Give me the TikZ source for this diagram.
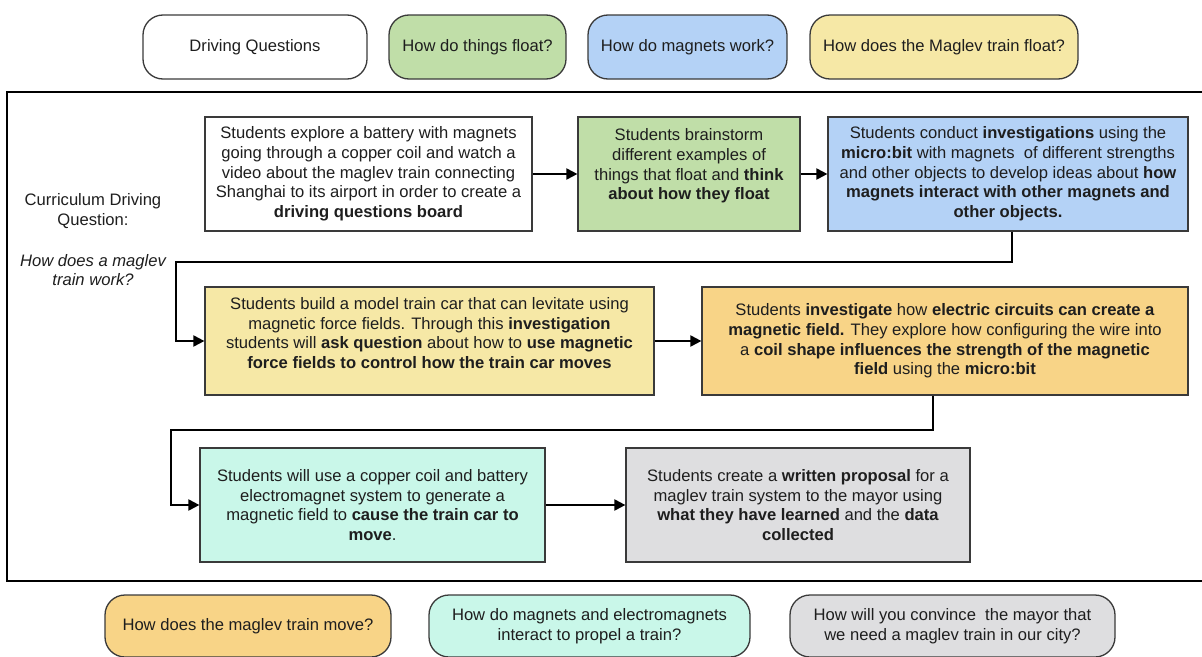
\documentclass[tikz,border=0pt]{standalone}
\usepackage{fontspec}
\setmainfont{Liberation Sans}
\usetikzlibrary{arrows.meta,calc}
\definecolor{cgreen}{HTML}{C0DEA8}
\definecolor{cblue}{HTML}{B4D2F6}
\definecolor{cyellow}{HTML}{F6E8A6}
\definecolor{corange}{HTML}{F8D487}
\definecolor{cteal}{HTML}{C9F7E9}
\definecolor{cgray}{HTML}{DEDEE0}
\definecolor{cborder}{HTML}{3A3A3A}
\definecolor{ctext}{HTML}{1E1E1E}
\newcommand{\myfont}{\fontsize{16.6}{19.7}\selectfont}
\tikzset{
  stepbox/.style={draw=cborder, line width=1.2pt, rectangle, align=center, inner sep=3pt,
    text=ctext, font=\myfont},
  qbox/.style={draw=cborder, line width=1.3pt, rectangle, rounded corners=20pt, align=center,
    inner sep=3pt, text=ctext, font=\myfont, minimum height=64pt},
  conn/.style={line width=2pt, -{Triangle[length=11pt,width=11pt]}},
  plain/.style={align=center, text=ctext, font=\myfont}
}
\begin{document}
\begin{tikzpicture}[x=1pt,y=-1pt]
\useasboundingbox (0,0) rectangle (1202,656);
% top driving questions
\node[qbox, minimum width=224pt] (dq) at (255,47) {Driving Questions};
\node[qbox, fill=cgreen, minimum width=177pt] (q1) at (477.5,47) {How do things float?};
\node[qbox, fill=cblue, minimum width=199pt] (q2) at (687.5,47) {How do magnets work?};
\node[qbox, fill=cyellow, minimum width=268pt] (q3) at (944,47) {How does the Maglev train float?};
% frame
\draw[line width=2.5pt] (7,92) rectangle (1220,581);
\node[plain] (cdq) at (93,211) {Curriculum Driving\\Question:};
\node[plain, font=\myfont\itshape] (cdq2) at (93,270) {How does a maglev\\train work?};
% row 1
\node[stepbox, minimum width=327pt, minimum height=114pt] (s1) at (368.5,174)
 {Students explore a battery with magnets\\ going through a copper coil and watch a\\ video about the maglev train connecting\\ Shanghai to its airport in order to create a\\ \textbf{driving questions board}};
\node[stepbox, fill=cgreen, minimum width=222pt, minimum height=114pt] (s2) at (689,174)
 {Students brainstorm\\ different examples of\\ things that float and \textbf{think}\\ \textbf{about how they float}\\ \mbox{}};
\node[stepbox, fill=cblue, minimum width=360pt, minimum height=114pt] (s3) at (1008,174)
 {Students conduct \textbf{investigations} using the\\ \textbf{micro:bit} with magnets\ \ of different strengths\\ and other objects to develop ideas about \textbf{how}\\ \textbf{magnets interact with other magnets and}\\ \textbf{other objects.}};
% row 2
\node[stepbox, fill=cyellow, minimum width=449pt, minimum height=108pt] (s4) at (429.5,341)
 {Students build a model train car that can levitate using\\ magnetic force fields. Through this \textbf{investigation}\\ students will \textbf{ask question} about how to \textbf{use magnetic}\\ \textbf{force fields to control how the train car moves}\\[-3.7pt]\mbox{}};
\node[stepbox, fill=corange, minimum width=486pt, minimum height=108pt] (s5) at (945,341)
 {Students \textbf{investigate} how \textbf{electric circuits can create a}\\ \textbf{magnetic field.} They explore how configuring the wire into\\ a \textbf{coil shape influences the strength of the magnetic}\\ \textbf{field} using the \textbf{micro:bit}};
% row 3
\node[stepbox, fill=cteal, minimum width=345pt, minimum height=114pt] (s6) at (372.5,505)
 {Students will use a copper coil and battery\\ electromagnet system to generate a\\ magnetic field to \textbf{cause the train car to}\\ \textbf{move}.};
\node[stepbox, fill=cgray, minimum width=344pt, minimum height=114pt] (s7) at (798,505)
 {Students create a \textbf{written proposal} for a\\ maglev train system to the mayor using\\ \textbf{what they have learned} and the \textbf{data}\\ \textbf{collected}};
% bottom questions
\node[qbox, fill=corange, minimum width=286pt, minimum height=62pt] (q4) at (248,626) {How does the maglev train move?};
\node[qbox, fill=cteal, minimum width=321pt, minimum height=62pt] (q5) at (589.5,626) {How do magnets and electromagnets\\ interact to propel a train?};
\node[qbox, fill=cgray, minimum width=325pt, minimum height=62pt] (q6) at (952.5,626) {How will you convince\ \ the mayor that\\ we need a maglev train in our city?};
% connectors
\coordinate (k1) at (176,262);
\coordinate (k2) at (171,430);
\draw[conn] (s1) -- (s2);
\draw[conn] (s2) -- (s3);
\draw[conn] ([xshift=4pt]s3.south) |- (k1) |- (s4.west);
\draw[conn] (s4) -- (s5);
\draw[conn] ([xshift=-12pt]s5.south) |- (k2) |- (s6.west);
\draw[conn] (s6) -- (s7);
\end{tikzpicture}
\end{document}
